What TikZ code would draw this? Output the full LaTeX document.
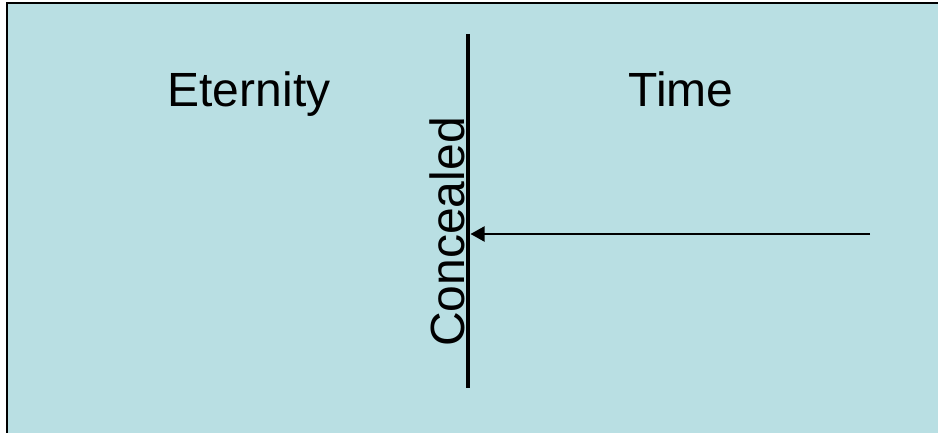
\documentclass[tikz,border=0pt]{standalone}
\usepackage{fontspec}
\setmainfont{Liberation Sans}
\usetikzlibrary{arrows.meta}
\definecolor{panelblue}{RGB}{185,223,227}

\begin{document}
\begin{tikzpicture}[x=1pt, y=-1pt,
        label text/.style={inner sep=0pt, font=\fontsize{48}{52}\selectfont}]
            \useasboundingbox (0,0) rectangle (938,433);
            \fill[panelblue] (7,3) rectangle (960,460);
            \draw[black, line width=2pt] (7,460) -- (7,3) -- (960,3);
            % dividing line
            \coordinate (top) at (468,34);
            \coordinate (bottom) at (468,388);
            \draw[line width=4.5pt] (top) -- (bottom);
            \node[label text, anchor=base] (eternity) at (249,107) {Eternity};
            \node[label text, anchor=base] (time) at (681,107) {Time};
            \node[label text, anchor=base, rotate=90] (concealed) at (464,232) {Concealed};
            % arrow pointing back to the line
            \coordinate (start) at (870,234);
            \coordinate (hit) at (470.5,234);
            \draw[line width=2pt, -{Triangle[length=14pt, width=15pt]}] (start) -- (hit);
        \end{tikzpicture}
\end{document}
